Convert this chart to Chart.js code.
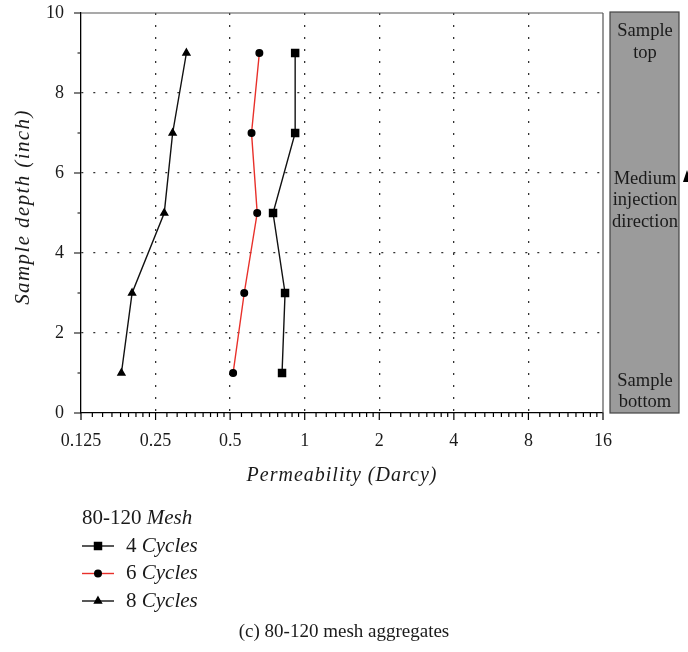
<!DOCTYPE html>
<html><head><meta charset="utf-8">
<script src="https://cdn.jsdelivr.net/npm/chart.js@4"></script>
<style>html,body{margin:0;padding:0;background:#fff;overflow:hidden}#wrap{width:688px;height:652px}</style>
</head><body><div id="wrap"><canvas id="c" width="688" height="652"></canvas></div>
<script>
// ---- data ----
const depths = [1, 3, 5, 7, 9];
const perm4 = [0.81, 0.833, 0.745, 0.915, 0.915];
const perm6 = [0.514, 0.57, 0.643, 0.61, 0.656];
const perm8 = [0.182, 0.201, 0.271, 0.293, 0.333];
const cycleLabels = ['4', '6', '8'];
const legendTitleNum = '80-120';
const legendTitleWord = 'Mesh';
const xTicks = [0.125, 0.25, 0.5, 1, 2, 4, 8, 16];
const xTickLabels = ['0.125', '0.25', '0.5', '1', '2', '4', '8', '16'];
const yTicks = [0, 2, 4, 6, 8, 10];
const yMinorTicks = [1, 3, 5, 7, 9];
const boxTop = ['Sample', 'top'];
const boxMid = ['Medium', 'injection', 'direction'];
const boxBottom = ['Sample', 'bottom'];
const caption = '(c) 80-120 mesh aggregates';

const SERIF = '"Liberation Serif", "DejaVu Serif", serif';
const toPts = arr => arr.map((v, i) => ({x: v, y: depths[i]}));

const decor = {
  id: 'decor',
  afterDraw(chart) {
    const ctx = chart.ctx, ca = chart.chartArea;
    const xs = chart.scales.x, ys = chart.scales.y;
    ctx.save();
    // top + right frame
    ctx.strokeStyle = '#555'; ctx.lineWidth = 1.2;
    ctx.beginPath(); ctx.moveTo(ca.left, ca.top); ctx.lineTo(ca.right, ca.top);
    ctx.moveTo(ca.right, ca.top); ctx.lineTo(ca.right, ca.bottom); ctx.stroke();
    // x ticks (major + minor)
    ctx.strokeStyle = '#000'; ctx.lineWidth = 1.2;
    ctx.beginPath();
    xTicks.forEach((v, i) => {
      const px = xs.getPixelForValue(v);
      ctx.moveTo(px, ca.bottom); ctx.lineTo(px, ca.bottom + 7);
      if (i < xTicks.length - 1) {
        for (let k = 1; k <= 8; k++) {
          const mp = xs.getPixelForValue(v * (1 + k / 9));
          ctx.moveTo(mp, ca.bottom); ctx.lineTo(mp, ca.bottom + 4);
        }
      }
    });
    // y ticks
    yTicks.forEach(v => { const py = ys.getPixelForValue(v); ctx.moveTo(ca.left - 7, py); ctx.lineTo(ca.left, py); });
    yMinorTicks.forEach(v => { const py = ys.getPixelForValue(v); ctx.moveTo(ca.left - 3.5, py); ctx.lineTo(ca.left, py); });
    ctx.stroke();

    // grey side box
    const bx = 610, bw = 69, by = ca.top - 1, bh = ca.bottom - ca.top + 1;
    ctx.fillStyle = '#9b9b9b'; ctx.fillRect(bx, by, bw, bh);
    ctx.strokeStyle = '#444'; ctx.lineWidth = 1.2; ctx.strokeRect(bx, by, bw, bh);
    ctx.fillStyle = '#1a1a1a'; ctx.font = '18.5px ' + SERIF; ctx.textAlign = 'center'; ctx.textBaseline = 'middle';
    const cx = bx + bw / 2 + 0.5;
    boxTop.forEach((t, i) => ctx.fillText(t, cx, 31 + i * 22));
    boxMid.forEach((t, i) => ctx.fillText(t, cx, 179 + i * 21.5));
    boxBottom.forEach((t, i) => ctx.fillText(t, cx, 381 + i * 21.5));
    // arrow head at right edge
    ctx.fillStyle = '#000';
    ctx.beginPath(); ctx.moveTo(687, 170); ctx.lineTo(683, 182); ctx.lineTo(691, 182); ctx.closePath(); ctx.fill();

    // axis titles
    ctx.fillStyle = '#1a1a1a';
    ctx.textAlign = 'center'; ctx.textBaseline = 'middle';
    ctx.font = 'italic 20px ' + SERIF;
    ctx.letterSpacing = '1px';
    ctx.fillText('Permeability (Darcy)', (ca.left + ca.right) / 2, 476);
    ctx.save(); ctx.translate(23, 207); ctx.rotate(-Math.PI / 2);
    ctx.font = 'italic 21px ' + SERIF;
    ctx.letterSpacing = '1.4px';
    ctx.fillText('Sample depth (inch)', 0, 0); ctx.restore();
    ctx.letterSpacing = '0px';

    // legend
    ctx.textAlign = 'left';
    const drawMixed = (a, b, x, y) => {
      ctx.fillStyle = '#1a1a1a';
      ctx.font = '21px ' + SERIF; ctx.fillText(a, x, y);
      const w = ctx.measureText(a).width;
      ctx.font = 'italic 21px ' + SERIF; ctx.fillText(b, x + w, y);
    };
    drawMixed(legendTitleNum + ' ', legendTitleWord, 82, 518);
    chart.data.datasets.forEach((ds, i) => {
      const y = 546 + i * 27.5;
      ctx.strokeStyle = ds.borderColor; ctx.lineWidth = 1.4;
      ctx.beginPath(); ctx.moveTo(82, y); ctx.lineTo(114, y); ctx.stroke();
      ctx.fillStyle = '#000'; ctx.strokeStyle = '#000';
      Chart.helpers.drawPoint(ctx, {pointStyle: ds.pointStyle, radius: ds.pointRadius, borderWidth: 1}, 98, y);
      drawMixed(cycleLabels[i] + ' ', 'Cycles', 126, y);
    });

    // caption
    ctx.font = '19px ' + SERIF; ctx.textAlign = 'center'; ctx.fillStyle = '#1a1a1a';
    ctx.fillText(caption, 344, 632);
    ctx.restore();
  }
};

new Chart(document.getElementById('c'), {
  type: 'line',
  data: {
    datasets: [
      {label: cycleLabels[0] + ' Cycles', data: toPts(perm4), borderColor: '#111', backgroundColor: '#000',
       pointBackgroundColor: '#000', pointBorderColor: '#000', pointStyle: 'rect', pointRadius: 5, borderWidth: 1.4},
      {label: cycleLabels[1] + ' Cycles', data: toPts(perm6), borderColor: '#e8302a', backgroundColor: '#000',
       pointBackgroundColor: '#000', pointBorderColor: '#000', pointStyle: 'circle', pointRadius: 3.3, borderWidth: 1.4},
      {label: cycleLabels[2] + ' Cycles', data: toPts(perm8), borderColor: '#111', backgroundColor: '#000',
       pointBackgroundColor: '#000', pointBorderColor: '#000', pointStyle: 'triangle', pointRadius: 4, borderWidth: 1.4}
    ]
  },
  options: {
    responsive: false,
    animation: false,
    layout: {padding: {left: 0, top: 13, right: 85, bottom: 0}},
    plugins: {legend: {display: false}, tooltip: {enabled: false}},
    elements: {line: {tension: 0}},
    scales: {
      x: {
        type: 'logarithmic', min: 0.125, max: 16,
        afterFit: s => { s.height = 652 - 413; s.paddingLeft = 0; s.paddingRight = 0; },
        afterBuildTicks: s => { s.ticks = xTicks.map(v => ({value: v})); },
        ticks: {
          autoSkip: false, maxRotation: 0, padding: 17, color: '#1a1a1a',
          font: {family: SERIF, size: 18},
          callback: (v, i) => xTickLabels[i]
        },
        grid: {
          drawTicks: false, lineWidth: 1.3,
          color: c => (c.tick && (c.tick.value === 0.125 || c.tick.value === 16)) ? 'rgba(0,0,0,0)' : '#333'
        },
        border: {display: true, color: '#000', width: 1.3, dash: [2, 10]}
      },
      y: {
        type: 'linear', min: 0, max: 10,
        afterFit: s => { s.width = 81; s.paddingTop = 0; s.paddingBottom = 0; },
        afterBuildTicks: s => { s.ticks = yTicks.map(v => ({value: v})); },
        ticks: {padding: 17, color: '#1a1a1a', font: {family: SERIF, size: 18}},
        grid: {
          drawTicks: false, lineWidth: 1.3,
          color: c => (c.tick && (c.tick.value === 0 || c.tick.value === 10)) ? 'rgba(0,0,0,0)' : '#333'
        },
        border: {display: true, color: '#000', width: 1.3, dash: [2, 10]}
      }
    }
  },
  plugins: [decor]
});
</script>
</body></html>
